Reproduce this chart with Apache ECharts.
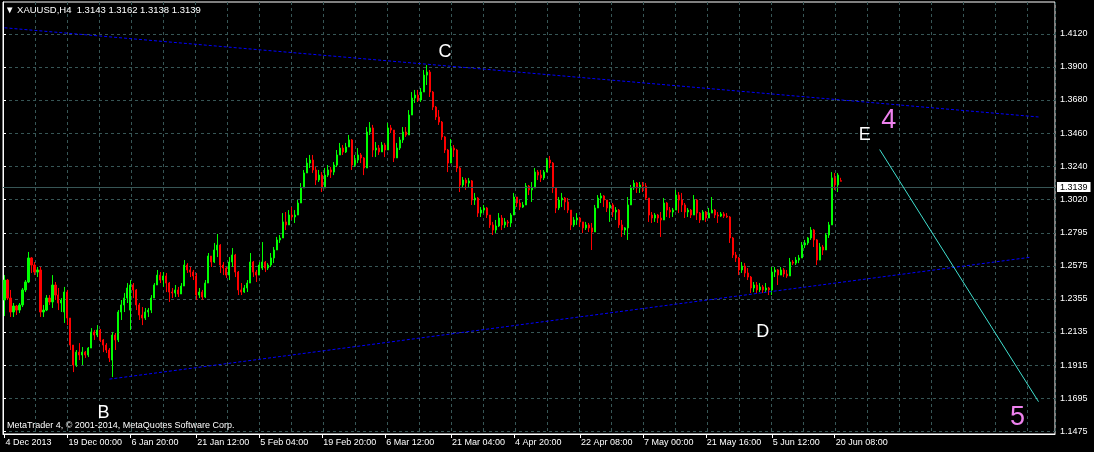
<!DOCTYPE html>
<html><head><meta charset="utf-8">
<script src="https://cdn.jsdelivr.net/npm/echarts@6/dist/echarts.min.js"></script>
<style>html,body{margin:0;padding:0;background:#000;}#c{width:1094px;height:452px;}</style>
</head><body><div id="c"></div>
<script>
// ---- data ----
const symbolTitle = 'XAUUSD,H4';
const lastOHLC = [1.3143, 1.3162, 1.3138, 1.3139];
const copyrightText = 'MetaTrader 4, \u00a9 2001-2014, MetaQuotes Software Corp.';
const yTickValues = [1.1475, 1.1695, 1.1915, 1.2135, 1.2355, 1.2575, 1.2795, 1.3020, 1.3240, 1.3460, 1.3680, 1.3900, 1.4120];
const xTickLabels = ['4 Dec 2013', '19 Dec 00:00', '6 Jan 20:00', '21 Jan 12:00', '5 Feb 04:00', '19 Feb 20:00', '6 Mar 12:00', '21 Mar 04:00', '4 Apr 20:00', '22 Apr 08:00', '7 May 00:00', '21 May 16:00', '5 Jun 12:00', '20 Jun 08:00'];
const xTickBars = [0, 21, 42, 64, 85, 106, 127, 149, 170, 192, 213, 234, 256, 277];
const slotCount = 351;
// [open, close, low, high]
const ohlc = [
[1.2348,1.2481,1.2241,1.2514],[1.2481,1.2361,1.2348,1.2488],[1.2361,1.2268,1.2235,1.2415],[1.2268,1.2308,1.2235,1.2328],
[1.2308,1.2281,1.2248,1.2315],[1.2281,1.2315,1.2261,1.2328],[1.2315,1.2415,1.2301,1.2428],[1.2415,1.2468,1.2401,1.2481],
[1.2468,1.2628,1.2461,1.2668],[1.2628,1.2581,1.2528,1.2634],[1.2581,1.2534,1.2514,1.2601],[1.2534,1.2548,1.2501,1.2568],
[1.2548,1.2268,1.2235,1.2568],[1.2268,1.2281,1.2235,1.2315],[1.2281,1.2361,1.2274,1.2381],[1.2361,1.2335,1.2315,1.2381],
[1.2335,1.2448,1.2295,1.2514],[1.2448,1.2381,1.2348,1.2468],[1.2381,1.2328,1.2281,1.2428],[1.2328,1.2348,1.2268,1.2361],
[1.2268,1.2401,1.2195,1.2435],[1.2401,1.2228,1.2181,1.2415],[1.2228,1.2048,1.2015,1.2228],[1.2048,1.1915,1.1868,1.2048],
[1.1915,1.2001,1.1902,1.2015],[1.2001,1.1982,1.1948,1.2061],[1.1982,1.2001,1.1915,1.2035],[1.2001,1.1982,1.1962,1.2008],
[1.1982,1.2028,1.1968,1.2035],[1.2028,1.2135,1.2028,1.2161],[1.2135,1.2115,1.2082,1.2148],[1.2115,1.2148,1.2101,1.2181],
[1.2148,1.2082,1.2068,1.2155],[1.2082,1.2048,1.2001,1.2088],[1.2048,1.2015,1.1995,1.2061],[1.2015,1.1962,1.1935,1.2028],
[1.1948,1.2115,1.1835,1.2135],[1.2115,1.2082,1.2015,1.2128],[1.2082,1.2268,1.2068,1.2281],[1.2268,1.2315,1.2215,1.2348],
[1.2315,1.2361,1.2268,1.2395],[1.2361,1.2428,1.2328,1.2461],[1.2281,1.2448,1.2148,1.2481],[1.2448,1.2415,1.2361,1.2461],
[1.2415,1.2315,1.2281,1.2421],[1.2315,1.2248,1.2215,1.2328],[1.2248,1.2228,1.2181,1.2301],[1.2228,1.2268,1.2215,1.2295],
[1.2268,1.2281,1.2235,1.2295],[1.2281,1.2361,1.2261,1.2381],[1.2361,1.2448,1.2361,1.2461],[1.2448,1.2514,1.2448,1.2548],
[1.2514,1.2481,1.2461,1.2534],[1.2481,1.2508,1.2435,1.2534],[1.2508,1.2461,1.2401,1.2528],[1.2461,1.2401,1.2335,1.2468],
[1.2401,1.2395,1.2361,1.2428],[1.2395,1.2415,1.2368,1.2448],[1.2415,1.2388,1.2368,1.2435],[1.2388,1.2441,1.2388,1.2461],
[1.2441,1.2581,1.2441,1.2614],[1.2581,1.2548,1.2528,1.2594],[1.2548,1.2534,1.2501,1.2568],[1.2534,1.2508,1.2481,1.2548],
[1.2508,1.2381,1.2348,1.2528],[1.2381,1.2401,1.2361,1.2428],[1.2401,1.2368,1.2348,1.2415],[1.2368,1.2461,1.2361,1.2481],
[1.2461,1.2641,1.2461,1.2661],[1.2641,1.2601,1.2568,1.2641],[1.2601,1.2681,1.2594,1.2728],[1.2681,1.2714,1.2634,1.2788],
[1.2714,1.2581,1.2528,1.2720],[1.2581,1.2561,1.2514,1.2601],[1.2561,1.2514,1.2495,1.2568],[1.2514,1.2601,1.2481,1.2634],
[1.2601,1.2648,1.2568,1.2694],[1.2648,1.2534,1.2501,1.2655],[1.2534,1.2415,1.2381,1.2541],[1.2415,1.2401,1.2381,1.2461],
[1.2401,1.2428,1.2395,1.2448],[1.2428,1.2461,1.2401,1.2481],[1.2461,1.2601,1.2461,1.2661],[1.2601,1.2534,1.2501,1.2608],
[1.2534,1.2514,1.2468,1.2548],[1.2514,1.2581,1.2514,1.2601],[1.2561,1.2601,1.2548,1.2734],[1.2601,1.2561,1.2534,1.2608],
[1.2561,1.2581,1.2548,1.2594],[1.2581,1.2628,1.2568,1.2661],[1.2628,1.2681,1.2594,1.2701],[1.2681,1.2748,1.2681,1.2768],
[1.2748,1.2761,1.2728,1.2781],[1.2761,1.2868,1.2761,1.2927],[1.2868,1.2848,1.2814,1.2934],[1.2848,1.2914,1.2848,1.2947],
[1.2914,1.2901,1.2881,1.2967],[1.2901,1.2914,1.2861,1.2947],[1.2914,1.2994,1.2914,1.3014],[1.2994,1.3094,1.2994,1.3127],
[1.3094,1.3194,1.3094,1.3214],[1.3194,1.3260,1.3194,1.3294],[1.3260,1.3280,1.3227,1.3314],[1.3280,1.3214,1.3194,1.3314],
[1.3214,1.3147,1.3114,1.3234],[1.3147,1.3180,1.3134,1.3214],[1.3180,1.3094,1.3067,1.3200],[1.3094,1.3180,1.3094,1.3227],
[1.3180,1.3214,1.3167,1.3247],[1.3214,1.3200,1.3161,1.3234],[1.3200,1.3247,1.3180,1.3267],[1.3247,1.3314,1.3234,1.3347],
[1.3314,1.3360,1.3314,1.3394],[1.3360,1.3334,1.3314,1.3380],[1.3334,1.3367,1.3327,1.3394],[1.3367,1.3414,1.3367,1.3447],
[1.3414,1.3247,1.3214,1.3420],[1.3247,1.3280,1.3234,1.3314],[1.3280,1.3314,1.3260,1.3360],[1.3314,1.3294,1.3260,1.3327],
[1.3294,1.3227,1.3180,1.3300],[1.3227,1.3467,1.3227,1.3500],[1.3467,1.3494,1.3447,1.3533],[1.3494,1.3347,1.3300,1.3514],
[1.3347,1.3360,1.3300,1.3400],[1.3360,1.3334,1.3314,1.3380],[1.3334,1.3380,1.3334,1.3400],[1.3380,1.3347,1.3300,1.3394],
[1.3347,1.3494,1.3347,1.3527],[1.3494,1.3480,1.3460,1.3514],[1.3480,1.3294,1.3267,1.3480],[1.3294,1.3360,1.3294,1.3394],
[1.3360,1.3414,1.3347,1.3434],[1.3414,1.3467,1.3394,1.3500],[1.3467,1.3447,1.3434,1.3500],[1.3447,1.3580,1.3447,1.3613],
[1.3580,1.3693,1.3580,1.3733],[1.3693,1.3713,1.3660,1.3747],[1.3713,1.3680,1.3667,1.3747],[1.3680,1.3733,1.3667,1.3760],
[1.3733,1.3846,1.3733,1.3880],[1.3846,1.3866,1.3780,1.3913],[1.3866,1.3733,1.3700,1.3880],[1.3733,1.3633,1.3613,1.3740],
[1.3633,1.3567,1.3547,1.3640],[1.3567,1.3533,1.3514,1.3613],[1.3533,1.3434,1.3414,1.3540],[1.3434,1.3347,1.3327,1.3440],
[1.3347,1.3260,1.3200,1.3354],[1.3260,1.3360,1.3260,1.3420],[1.3360,1.3347,1.3300,1.3380],[1.3347,1.3227,1.3200,1.3354],
[1.3227,1.3114,1.3067,1.3234],[1.3114,1.3147,1.3094,1.3167],[1.3147,1.3127,1.3081,1.3161],[1.3127,1.3141,1.3101,1.3161],
[1.3141,1.3014,1.2981,1.3147],[1.3014,1.3027,1.2981,1.3061],[1.3027,1.2927,1.2901,1.3034],[1.2927,1.2947,1.2901,1.2967],
[1.2947,1.2961,1.2927,1.2981],[1.2961,1.2914,1.2894,1.2967],[1.2914,1.2848,1.2828,1.2914],[1.2848,1.2814,1.2781,1.2868],
[1.2814,1.2841,1.2794,1.2881],[1.2841,1.2894,1.2834,1.2927],[1.2894,1.2848,1.2814,1.2914],[1.2848,1.2868,1.2828,1.2894],
[1.2868,1.2861,1.2834,1.2881],[1.2861,1.2914,1.2834,1.2927],[1.2914,1.3034,1.2914,1.3061],[1.3034,1.2994,1.2967,1.3034],
[1.2994,1.2967,1.2947,1.3014],[1.2967,1.2981,1.2961,1.3001],[1.2981,1.3107,1.2981,1.3127],[1.3107,1.3081,1.3047,1.3114],
[1.3081,1.3094,1.3001,1.3134],[1.3094,1.3200,1.3094,1.3227],[1.3200,1.3180,1.3147,1.3214],[1.3180,1.3161,1.3134,1.3214],
[1.3161,1.3200,1.3147,1.3214],[1.3200,1.3280,1.3200,1.3294],[1.3280,1.3260,1.3227,1.3307],[1.3260,1.3094,1.3061,1.3267],
[1.3094,1.2961,1.2927,1.3094],[1.2961,1.3014,1.2947,1.3034],[1.3014,1.3027,1.2967,1.3061],[1.3027,1.3001,1.2947,1.3034],
[1.3001,1.2947,1.2927,1.3027],[1.2947,1.2848,1.2814,1.2947],[1.2848,1.2881,1.2834,1.2901],[1.2881,1.2894,1.2848,1.2927],
[1.2894,1.2868,1.2834,1.2901],[1.2868,1.2828,1.2794,1.2868],[1.2828,1.2848,1.2814,1.2868],[1.2848,1.2828,1.2801,1.2861],
[1.2828,1.2801,1.2681,1.2861],[1.2801,1.2961,1.2801,1.2981],[1.2961,1.3027,1.2961,1.3047],[1.3027,1.3041,1.2994,1.3061],
[1.3041,1.3014,1.2967,1.3047],[1.3014,1.2961,1.2934,1.3014],[1.2961,1.2981,1.2868,1.3001],[1.2981,1.2934,1.2901,1.2994],
[1.2934,1.2947,1.2881,1.2967],[1.2947,1.2848,1.2828,1.2954],[1.2848,1.2814,1.2768,1.2881],[1.2814,1.2828,1.2781,1.2834],
[1.2828,1.2981,1.2748,1.3034],[1.2981,1.3094,1.2981,1.3114],[1.3094,1.3127,1.3081,1.3147],[1.3127,1.3094,1.3061,1.3134],
[1.3094,1.3114,1.3061,1.3134],[1.3114,1.3107,1.3067,1.3134],[1.3107,1.3027,1.3014,1.3127],[1.3027,1.2914,1.2868,1.3027],
[1.2914,1.2894,1.2861,1.2934],[1.2894,1.2914,1.2868,1.2927],[1.2914,1.2894,1.2861,1.2921],[1.2894,1.2881,1.2768,1.2934],
[1.2881,1.2994,1.2881,1.3027],[1.2994,1.2947,1.2901,1.3001],[1.2947,1.2934,1.2894,1.2967],[1.2934,1.2947,1.2901,1.2961],
[1.2947,1.3047,1.2947,1.3081],[1.3047,1.3014,1.2927,1.3067],[1.3014,1.2981,1.2934,1.3061],[1.2981,1.2934,1.2894,1.2994],
[1.2934,1.2947,1.2901,1.2961],[1.2947,1.2914,1.2894,1.2954],[1.2914,1.3014,1.2914,1.3047],[1.3014,1.2927,1.2881,1.3021],
[1.2927,1.2881,1.2861,1.2934],[1.2881,1.2934,1.2881,1.2947],[1.2934,1.2894,1.2868,1.2941],[1.2894,1.2927,1.2894,1.2961],
[1.2927,1.2947,1.2927,1.3034],[1.2947,1.2914,1.2894,1.2954],[1.2914,1.2907,1.2861,1.2934],[1.2907,1.2921,1.2901,1.2934],
[1.2921,1.2907,1.2894,1.2934],[1.2907,1.2901,1.2894,1.2927],[1.2901,1.2761,1.2728,1.2907],[1.2761,1.2648,1.2628,1.2768],
[1.2648,1.2628,1.2601,1.2668],[1.2628,1.2548,1.2514,1.2634],[1.2548,1.2574,1.2528,1.2601],[1.2574,1.2528,1.2501,1.2594],
[1.2528,1.2501,1.2481,1.2561],[1.2501,1.2428,1.2395,1.2508],[1.2428,1.2448,1.2401,1.2468],[1.2448,1.2415,1.2395,1.2468],
[1.2415,1.2435,1.2401,1.2461],[1.2435,1.2415,1.2395,1.2448],[1.2415,1.2428,1.2401,1.2461],[1.2428,1.2415,1.2381,1.2435],
[1.2415,1.2534,1.2381,1.2568],[1.2534,1.2548,1.2501,1.2568],[1.2548,1.2514,1.2448,1.2554],[1.2514,1.2548,1.2514,1.2568],
[1.2548,1.2521,1.2501,1.2561],[1.2521,1.2508,1.2495,1.2548],[1.2508,1.2601,1.2508,1.2628],[1.2601,1.2594,1.2581,1.2614],
[1.2594,1.2614,1.2581,1.2634],[1.2614,1.2628,1.2594,1.2648],[1.2628,1.2714,1.2628,1.2734],[1.2714,1.2728,1.2694,1.2748],
[1.2728,1.2761,1.2714,1.2768],[1.2761,1.2814,1.2748,1.2834],[1.2814,1.2748,1.2701,1.2821],[1.2748,1.2614,1.2581,1.2754],
[1.2614,1.2701,1.2614,1.2728],[1.2701,1.2681,1.2648,1.2714],[1.2681,1.2781,1.2681,1.2794],[1.2781,1.2848,1.2761,1.2868],
[1.2848,1.3161,1.2848,1.3200],[1.3161,1.3114,1.3081,1.3194],[1.3114,1.3180,1.3067,1.3194],[1.3143,1.3139,1.3138,1.3162]
];
// trend lines: [barIndex, price]
const upperTrend = [[0, 1.4161], [345, 1.3567]];
const lowerTrend = [[35, 1.1821], [342, 1.2632]];
const waveLine = [[292, 1.3350], [345, 1.1671]];
// wave labels
const waveNames = ['B', 'C', 'D', 'E', '4', '5'];
const waveBars = [33, 147, 253, 287, 295, 338];
const wavePrices = [1.1595, 1.3999, 1.2135, 1.3447, 1.3540, 1.1562];

// ---- chart ----
const gridColor = '#375656';
const font = 'Liberation Sans, Arial, sans-serif';
const labelByBar = {};
xTickBars.forEach((b, k) => { labelByBar[b] = xTickLabels[k]; });
const categories = [];
for (let i = 0; i < slotCount; i++) categories.push(String(i));
const isTick = (idx) => labelByBar[idx] !== undefined;

const waveData = waveNames.map((n, k) => {
  const big = (n === '4' || n === '5');
  return {
    name: n, coord: [waveBars[k], wavePrices[k]],
    label: { show: true, formatter: n, color: big ? '#ee82ee' : '#ffffff', fontSize: big ? 27 : 18, fontFamily: font }
  };
});

const chart = echarts.init(document.getElementById('c'), null, { renderer: 'canvas' });
chart.setOption({
  animation: false,
  backgroundColor: '#000000',
  title: [
    { text: '\u25BC ' + symbolTitle + '  ' + lastOHLC.map(v => v.toFixed(4)).join(' '), left: 5, top: 5, padding: 0,
      textStyle: { color: '#fff', fontSize: 9.5, fontWeight: 'normal', fontFamily: font } },
    { text: copyrightText, left: 7, top: 421, padding: 0,
      textStyle: { color: '#fff', fontSize: 9, fontWeight: 'normal', fontFamily: font } }
  ],
  grid: { left: 3, right: 39, top: 2, bottom: 18, show: true, borderColor: '#ffffff', borderWidth: 1, backgroundColor: '#000000' },
  xAxis: [
    { type: 'category', data: categories, boundaryGap: true,
      axisLine: { show: true, lineStyle: { color: '#ffffff' } },
      axisTick: { show: true, alignWithLabel: true, interval: (i) => isTick(i), length: 4, lineStyle: { color: '#ffffff' } },
      axisLabel: { show: true, interval: (i) => isTick(i), formatter: (v) => labelByBar[Number(v)] || '',
        color: '#ffffff', fontSize: 9, fontFamily: font, align: 'left', margin: 4, padding: [0, 0, 0, 1] },
      splitLine: { show: false } },
    { type: 'value', min: 0, max: 1052 / 32, interval: 1, position: 'top',
      axisLine: { show: false }, axisTick: { show: false }, axisLabel: { show: false },
      splitLine: { show: true, lineStyle: { color: gridColor, type: [3, 3], width: 1 } } }
  ],
  yAxis: {
    type: 'value', position: 'right', min: 1.14556, max: 1.43327,
    axisLine: { show: true, lineStyle: { color: '#ffffff' } },
    axisTick: { show: true, customValues: yTickValues, length: 3, lineStyle: { color: '#ffffff' } },
    axisLabel: { show: true, customValues: yTickValues, formatter: (v) => v.toFixed(4), color: '#ffffff', fontSize: 9, fontFamily: font, margin: 5 },
    splitLine: { show: true, lineStyle: { color: gridColor, type: [3, 3], width: 1 } }
  },
  series: [{
    type: 'candlestick', xAxisIndex: 0, yAxisIndex: 0, data: ohlc, barWidth: 1.6,
    itemStyle: { color: '#00ff00', color0: '#ff0000', borderColor: '#00ff00', borderColor0: '#ff0000', borderWidth: 1 },
    markLine: {
      silent: true, symbol: ['none', 'none'], animation: false,
      data: [
        { yAxis: lastOHLC[3], lineStyle: { color: gridColor, type: 'solid', width: 1 },
          label: { show: true, position: 'end', formatter: lastOHLC[3].toFixed(4), color: '#000', backgroundColor: '#fff', padding: [1, 3, 0, 3], fontSize: 9, fontFamily: font, distance: 2 } },
        [{ coord: upperTrend[0], lineStyle: { color: '#0000ff', type: [3, 2], width: 1 }, label: { show: false } }, { coord: upperTrend[1] }],
        [{ coord: lowerTrend[0], lineStyle: { color: '#0000ff', type: [3, 2], width: 1 }, label: { show: false } }, { coord: lowerTrend[1] }],
        [{ coord: waveLine[0], lineStyle: { color: '#40e0d0', type: 'solid', width: 1 }, label: { show: false } }, { coord: waveLine[1] }]
      ]
    },
    markPoint: {
      silent: true, symbol: 'rect', symbolSize: 1, itemStyle: { color: 'rgba(0,0,0,0)' },
      label: { position: 'inside' },
      data: waveData
    }
  }]
});
</script></body></html>
